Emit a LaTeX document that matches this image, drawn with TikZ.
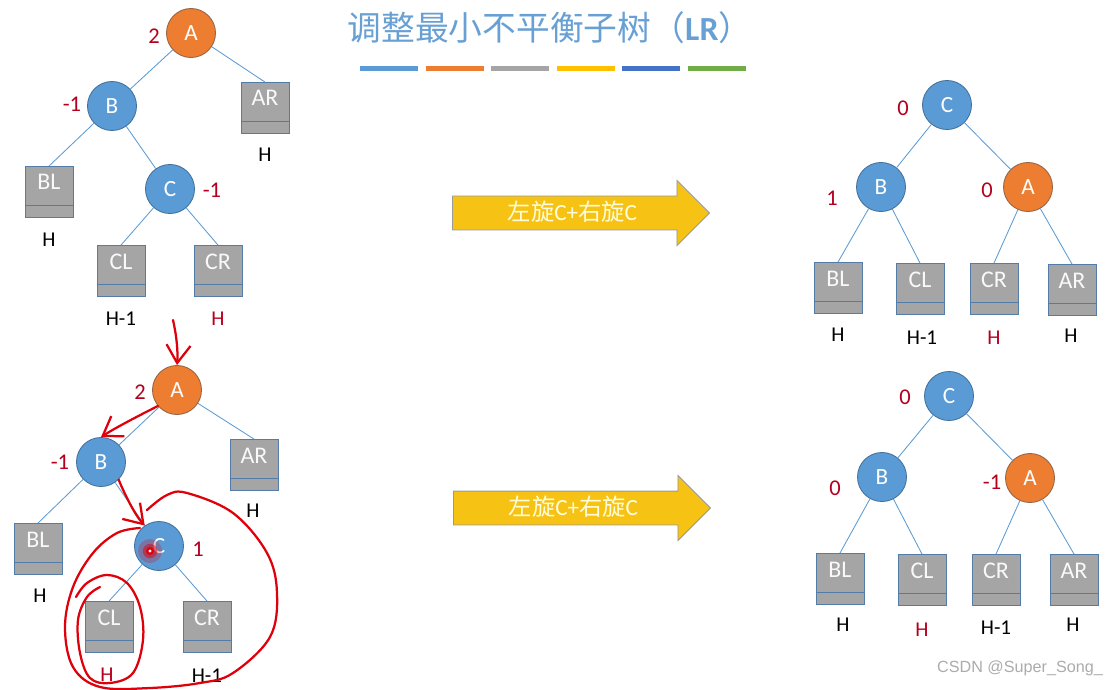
\documentclass[tikz,border=0pt]{standalone}
\usepackage{fontspec}
\setmainfont{Carlito}
\newfontfamily\cjk{Noto Sans CJK SC}
\newfontfamily\wmfont{Liberation Sans}
\usetikzlibrary{arrows.meta,shapes.arrows}
\definecolor{nodeblue}{RGB}{91,155,213}
\definecolor{nodeblueline}{RGB}{65,113,156}
\definecolor{nodeorange}{RGB}{237,125,49}
\definecolor{nodeorangeline}{RGB}{150,100,70}
\definecolor{leafgray}{RGB}{165,165,165}
\definecolor{leafline}{RGB}{84,124,168}
\definecolor{bfred}{RGB}{180,0,30}
\definecolor{titleblue}{RGB}{104,160,212}
\definecolor{arrowgold}{RGB}{246,194,20}
\definecolor{bargold}{RGB}{255,192,0}
\definecolor{barblue}{RGB}{68,114,196}
\definecolor{bargreen}{RGB}{112,173,71}
\definecolor{inkred}{RGB}{222,0,10}

\begin{document}
\begin{tikzpicture}[x=0.025cm,y=-0.025cm,
  avl/.style={circle,minimum size=1.225cm,inner sep=0pt,draw=nodeblueline,fill=nodeblue,
    text=white,line width=0.6pt,font=\fontsize{16.5}{18}\selectfont},
  root/.style={avl,draw=nodeorangeline,fill=nodeorange},
  leaf/.style={rectangle,minimum width=1.2cm,minimum height=1.275cm,inner sep=0pt,
    draw=leafline,fill=leafgray,line width=0.6pt,text=white!95!gray,
    text height=0.25cm,text depth=0.35cm,font=\fontsize{17}{18}\selectfont,
    path picture={\draw[leafline,line width=0.6pt]
      ([yshift=0.3cm]path picture bounding box.south west) --
      ([yshift=0.3cm]path picture bounding box.south east);}},
  bf/.style={text=bfred,font=\fontsize{16}{18}\selectfont},
  ht/.style={font=\fontsize{15}{18}\selectfont},
  edge/.style={draw=nodeblue,line width=0.6pt},
  rot/.style={single arrow,draw=gray!80,fill=arrowgold,line width=0.6pt,
    single arrow head extend=0.39cm,single arrow tip angle=90,
    minimum height=6.425cm,inner ysep=0pt,inner xsep=0.3cm,
    text height=0.6cm,text depth=0.225cm,text=white!85!yellow,
    font=\fontsize{16.5}{18}\selectfont},
  ink/.style={draw=inkred,line width=1.6pt,line cap=round,line join=round},
  barb/.style={-{Straight Barb[length=0.45cm,width=0.6cm]}},
  >=Latex]
\fill[white] (0,0) rectangle (1118,690);
\useasboundingbox (0,0) rectangle (1118,690);

% title and colour bars
\node[text=titleblue,font=\fontsize{24}{28}\selectfont] (ttl) at (550,28)
  {{\cjk 调整最小不平衡子树（}{\bfseries LR}{\cjk ）}};
\foreach \c [count=\i from 0] in {nodeblue,nodeorange,leafgray,bargold,barblue,bargreen}
  \fill[\c] ({360+65.5*\i},66) rectangle ++(58,5);

% rotation arrows
\node[rot,anchor=tail] (rot1) at (452,213) {{\cjk 左旋}C+{\cjk 右旋}C};
\node[rot,anchor=tail] (rot2) at (453,508) {{\cjk 左旋}C+{\cjk 右旋}C};

% inner nodes
\node[root] (A1) at (191,33) {A};
\node[avl] (B1) at (112,106) {B};
\node[avl] (C1) at (170,189) {C};
\node[root] (A2) at (177,390) {A};
\node[avl] (B2) at (101,462) {B};
\node[avl] (C2) at (159,546) {C};
\node[avl] (C3) at (947,105) {C};
\node[avl] (B3) at (881,187) {B};
\node[root] (A3) at (1028,187) {A};
\node[avl] (C4) at (949,396) {C};
\node[avl] (B4) at (882,477) {B};
\node[root] (A4) at (1030,478) {A};

% subtrees
\foreach \n/\x/\y/\t in {AR1/265/108/AR,BL1/49/192/BL,CL1/121/271/CL,CR1/218/271/CR,
    AR2/254/465/AR,BL2/38/549/BL,CL2/109/627/CL,CR2/207/627/CR,
    BL3/838/288/BL,CL3/920/289/CL,CR3/994/289/CR,AR3/1072/290/AR,
    BL4/840/579/BL,CL4/922/580/CL,CR4/996/580/CR,AR4/1074/580/AR}
  \node[leaf] (\n) at (\x,\y) {\t};

% balance factors
\foreach \n/\x/\y/\t in {fA1/154/36/2,fB1/72/104/-1,fC1/212/190/-1,
    fA2/140/392/2,fB2/60/462/-1,fC2/198/549/1,
    fC3/903/108/0,fB3/832/198/1,fA3/987/190/0,
    fC4/905/397/0,fB4/835/488/0,fA4/992/482/-1}
  \node[bf] (\n) at (\x,\y) {\t};

% heights
\foreach \n/\x/\y/\t/\c in {hAR1/265/155/H/black,hBL1/49/240/H/black,hCL1/121/319/H-1/black,hCR1/218/319/H/bfred,
    hAR2/253/511/H/black,hBL2/40/596/H/black,hCL2/107/675/H/bfred,hCR2/207/676/H-1/black,
    hBL3/838/335/H/black,hCL3/922/338/H-1/black,hCR3/994/338/H/bfred,hAR3/1071/336/H/black,
    hBL4/843/625/H/black,hCL4/922/630/H/bfred,hCR4/996/628/H-1/black,hAR4/1073/625/H/black}
  \node[ht,text=\c] (\n) at (\x,\y) {\t};

% edges
\draw[edge] (A1) -- (B1);
\draw[edge] (A1) -- (AR1.north);
\draw[edge] (B1) -- (BL1.north);
\draw[edge] (B1) -- (C1);
\draw[edge] (C1) -- (CL1.north);
\draw[edge] (C1) -- (CR1.north);
\draw[edge] (A2) -- (B2);
\draw[edge] (A2) -- (AR2.north);
\draw[edge] (B2) -- (BL2.north);
\draw[edge] (B2) -- (C2);
\draw[edge] (C2) -- (CL2.north);
\draw[edge] (C2) -- (CR2.north);
\foreach \t in {3,4}{
  \draw[edge] (C\t) -- (B\t);
  \draw[edge] (C\t) -- (A\t);
  \draw[edge] (B\t) -- (BL\t.north);
  \draw[edge] (B\t) -- (CL\t.north);
  \draw[edge] (A\t) -- (CR\t.north);
  \draw[edge] (A\t) -- (AR\t.north);
}

% hand-drawn marks
\coordinate (pin) at (173,320);
\draw[ink,barb] (pin) .. controls (177,338) and (178,352) .. (A2.north);
\draw[ink,barb] (A2.220) .. controls (140,415) and (115,428) .. (B2.north);
\draw[ink,barb] (B2.-45) .. controls (125,495) and (135,515) .. (C2.125);
\draw[ink] plot[smooth,tension=0.6] coordinates {(147,510) (167,495) (187,493) (233,513)
  (267,553) (277,593) (270,637) (233,673) (200,683) (150,688) (100,687) (73,667)
  (65,627) (73,587) (93,553) (117,533) (140,528)};
\draw[ink] plot[smooth,tension=0.6] coordinates {(100,587) (87,597) (78,620) (80,653)
  (90,678) (110,683) (133,673) (143,640) (140,607) (127,583) (107,575) (87,583) (76,597)};
\fill[inkred,opacity=0.25] (150,551) circle (0.3cm);
\fill[inkred,opacity=0.5] (150,551) circle (0.18cm);
\fill[inkred] (150,551) circle (0.1cm);
\fill[white] (150,551) circle (0.04cm);

% watermark
\node[text=gray!65,font=\wmfont\fontsize{11.5}{13}\selectfont] (mark) at (1020,668) {CSDN @Super\_Song\_};
\end{tikzpicture}
\end{document}
